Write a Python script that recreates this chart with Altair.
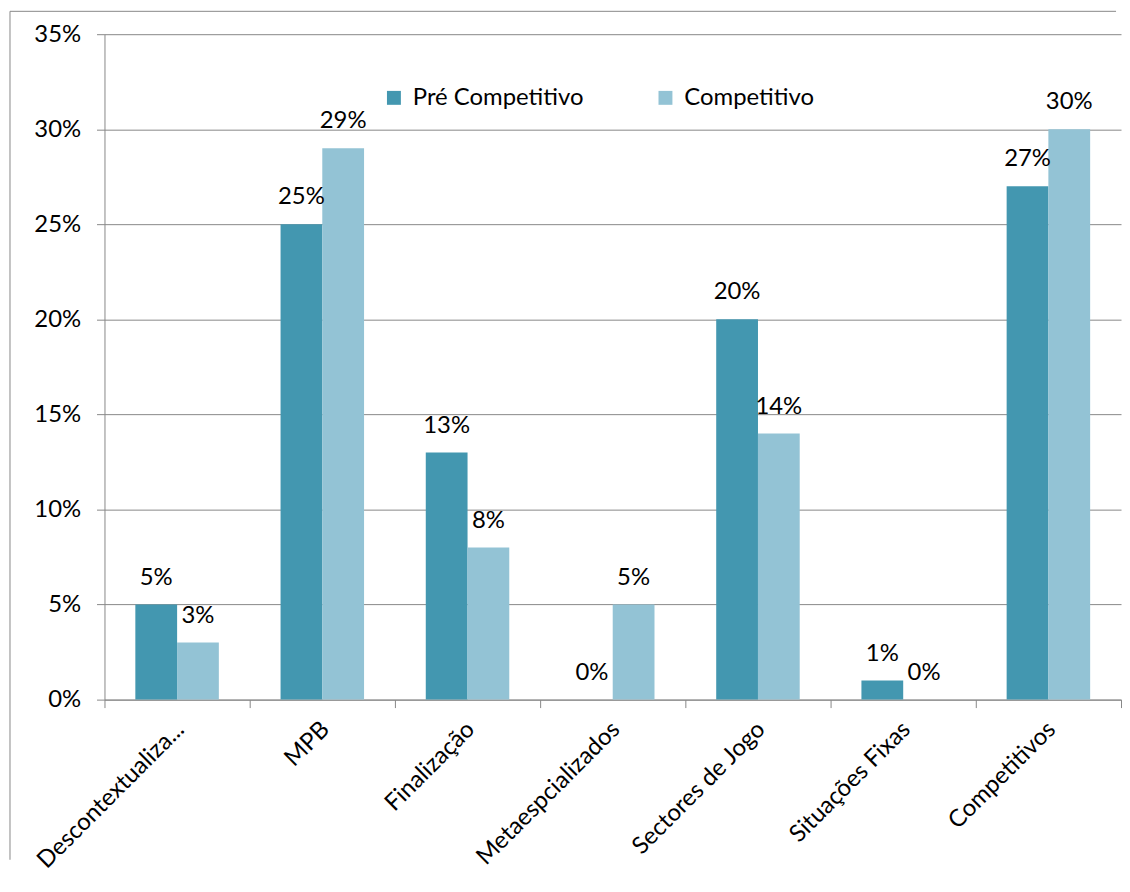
import altair as alt
import pandas as pd

categories = ["Descontextualiza...", "MPB", "Finalização", "Metaespcializados",
              "Sectores de Jogo", "Situações Fixas", "Competitivos"]
series = ["Pré Competitivo", "Competitivo"]
pre_competitivo = [5, 25, 13, 0, 20, 1, 27]
competitivo = [3, 29, 8, 5, 14, 0, 30]
y_ticks = [0, 0.05, 0.10, 0.15, 0.20, 0.25, 0.30, 0.35]
colors = ["#4397B0", "#93C3D5"]

rows = []
for c, a, b in zip(categories, pre_competitivo, competitivo):
    rows.append({"cat": c, "series": series[0], "v": a / 100})
    rows.append({"cat": c, "series": series[1], "v": b / 100})
df = pd.DataFrame(rows)

FONT = "Lato"
GRAY = "#878787"
FS = 24
W, H = 1022, 669

x_enc = alt.X("cat:N", sort=categories,
              scale=alt.Scale(paddingInner=0, paddingOuter=0),
              axis=alt.Axis(title=None, labelAngle=-45, labelAlign="right",
                            labelBaseline="middle", tickBand="extent",
                            tickSize=8, tickColor=GRAY, domainColor=GRAY,
                            labelFontSize=FS, labelFont=FONT, labelColor="black",
                            labelPadding=18, labelOffset=3, labelLimit=400,
                            grid=False))
xo_enc = alt.XOffset("series:N", sort=series,
                     scale=alt.Scale(paddingOuter=0.74, paddingInner=0))
y_enc = alt.Y("v:Q", scale=alt.Scale(domain=[0, 0.35], nice=False),
              axis=alt.Axis(title=None, values=y_ticks, format=".0%",
                            grid=True, gridColor=GRAY, domainColor=GRAY,
                            tickColor=GRAY, tickSize=8, labelPadding=16,
                            labelFontSize=FS, labelFont=FONT, labelColor="black"))

base = alt.Chart(df)
bars = base.mark_bar(size=42).encode(
    x=x_enc, xOffset=xo_enc, y=y_enc,
    color=alt.Color("series:N", sort=series,
                    scale=alt.Scale(domain=series, range=colors),
                    legend=alt.Legend(title=None, orient="none", direction="horizontal",
                                      legendX=279, legendY=52, symbolType="square",
                                      symbolSize=196, symbolStrokeWidth=0,
                                      labelFontSize=FS, labelFont=FONT,
                                      labelColor="black", labelOffset=7,
                                      labelLimit=400,
                                      columnPadding=70, gridAlign="all"))
)
labels = base.mark_text(baseline="middle", dy=-27, fontSize=FS, font=FONT,
                        color="black").encode(
    x=x_enc, xOffset=xo_enc, y=y_enc,
    text=alt.Text("v:Q", format=".0%")
)

one = alt.Chart(pd.DataFrame({"a": [0]}))
frame_top = one.mark_rule(color=GRAY, strokeWidth=1).encode(
    x=alt.value(-95), x2=alt.value(1017), y=alt.value(-23))
frame_left = one.mark_rule(color=GRAY, strokeWidth=1).encode(
    x=alt.value(-95), y=alt.value(-23), y2=alt.value(830))

chart = alt.layer(bars, labels, frame_top, frame_left).properties(
    width=W, height=H,
    padding={"left": 1, "top": 0, "right": 0, "bottom": 0},
    background="white"
).configure_view(strokeWidth=0)

chart.save("out.html", embed_options={"renderer": "svg", "actions": False})
